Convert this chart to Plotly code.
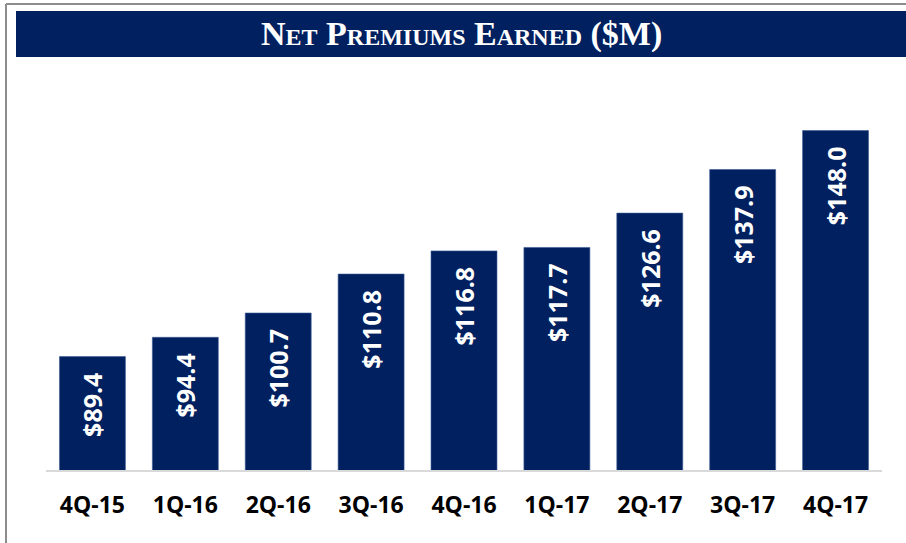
import plotly.graph_objects as go

categories = ["4Q-15", "1Q-16", "2Q-16", "3Q-16", "4Q-16", "1Q-17", "2Q-17", "3Q-17", "4Q-17"]
premiums = [89.4, 94.4, 100.7, 110.8, 116.8, 117.7, 126.6, 137.9, 148.0]
title_text = "Net Premiums Earned ($M)"

W, H = 906, 543
L, R, T, B = 46, 24, 70, 73
pw, ph = W - L - R, H - T - B

def px_x(x):
    return (x - L) / pw

def px_y(y):
    return (H - B - y) / ph

navy = "#002060"

fig = go.Figure(go.Bar(
    x=categories,
    y=premiums,
    marker=dict(color=navy, line=dict(color="#3b5a94", width=0.6)),
    text=["$" + f"{v:.1f}" + "\u00a0\u00a0" for v in premiums],
    textposition="inside",
    insidetextanchor="end",
    textangle=-90,
    textfont=dict(family="Open Sans", size=25, color="white", weight="bold"),
    hoverinfo="skip",
))

fig.update_layout(
    width=W, height=H,
    margin=dict(l=L, r=R, t=T, b=B),
    paper_bgcolor="white",
    plot_bgcolor="white",
    showlegend=False,
    bargap=0.29,
    xaxis=dict(
        showline=True, linecolor="#d9d9d9", linewidth=2,
        showgrid=False, ticks="",
        tickfont=dict(family="Open Sans", size=23, color="black", weight="bold"),
        ticklabelstandoff=13,
    ),
    yaxis=dict(range=[60, 163.7], visible=False, showgrid=False),
    shapes=[
        dict(type="line", xref="paper", yref="paper",
             x0=px_x(6), x1=px_x(910), y0=px_y(4), y1=px_y(4),
             line=dict(color="#8c8c8c", width=2)),
        dict(type="line", xref="paper", yref="paper",
             x0=px_x(6), x1=px_x(6), y0=px_y(4), y1=px_y(550),
             line=dict(color="#8c8c8c", width=2)),
        dict(type="rect", xref="paper", yref="paper",
             x0=px_x(16), x1=px_x(910), y0=px_y(11), y1=px_y(57),
             fillcolor=navy, line=dict(width=0), layer="below"),
    ],
    annotations=[
        dict(text=title_text, xref="paper", yref="paper",
             x=px_x(461), y=px_y(34), xanchor="center", yanchor="middle",
             showarrow=False,
             font=dict(family="Liberation Serif", size=34, color="white",
                       variant="small-caps", weight="bold")),
    ],
)

fig.write_html(
    "out.html",
    config={"displayModeBar": False, "staticPlot": True},
    post_script="document.body.style.margin='0px';document.body.style.overflow='hidden';",
)
